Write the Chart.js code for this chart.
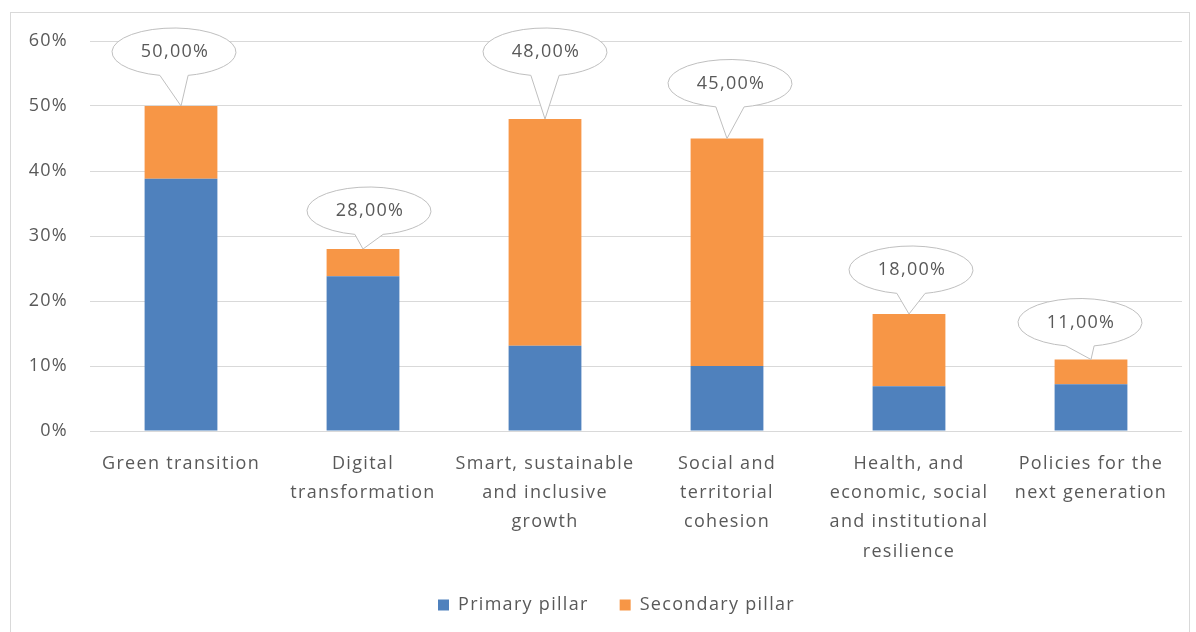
<!DOCTYPE html>
<html>
<head>
<meta charset="utf-8">
<script src="https://cdn.jsdelivr.net/npm/chart.js@4.4.1/dist/chart.umd.min.js"></script>
<style>
  html, body { margin: 0; padding: 0; background: #fff; overflow: hidden; }
  #frame {
    position: absolute; left: 10px; top: 12px;
    width: 1180px; height: 640px;
    border: 1px solid #d9d9d9; box-sizing: border-box;
  }
  #wrap { position: absolute; left: 0; top: 0; width: 1178px; height: 619px; }
</style>
</head>
<body>
<div id="frame"><div id="wrap"><canvas id="myChart"></canvas></div></div>
<script>
var categories = [
  "Green transition",
  ["Digital", "transformation"],
  ["Smart, sustainable", "and inclusive", "growth"],
  ["Social and", "territorial", "cohesion"],
  ["Health, and", "economic, social", "and institutional", "resilience"],
  ["Policies for the", "next generation"]
];
var primaryPillar = [38.8, 23.8, 13.1, 10.0, 6.9, 7.2];
var secondaryPillar = [11.2, 4.2, 34.9, 35.0, 11.1, 3.8];
var yTicks = [0, 10, 20, 30, 40, 50, 60];

var textColor = '#595959';
var fontFamily = "'Open Sans', 'Noto Sans', sans-serif";

// how far above the bar top each callout bubble sits (px) and sideways shift
var calloutLift = [54, 38, 67, 55, 44, 37];
var calloutShift = [-7, 6, 0, 3, 2, -11];

// the original text is a bit wider, open it up a little
var spacingPlugin = {
  id: 'spacing',
  beforeUpdate: function (chart) { chart.ctx.letterSpacing = '1.3px'; },
  beforeDraw: function (chart) { chart.ctx.letterSpacing = '1.3px'; },
  afterLayout: function (chart) {
    // legend sits a bit right of centre in the original
    if (chart.legend) chart.legend.left += 40;
  }
};

var calloutPlugin = {
  id: 'callouts',
  afterDatasetsDraw: function (chart) {
    var ctx = chart.ctx;
    var xs = chart.scales.x, ys = chart.scales.y;
    ctx.save();
    for (var i = 0; i < categories.length; i++) {
      var total = primaryPillar[i] + secondaryPillar[i];
      var tipX = xs.getPixelForValue(i);
      var tipY = ys.getPixelForValue(total);
      var cx = tipX + calloutShift[i], cy = tipY - calloutLift[i];
      var rx = 62, ry = 24;
      var d = 0.23;
      ctx.beginPath();
      ctx.ellipse(cx, cy, rx, ry, 0, Math.PI / 2 + d, Math.PI / 2 - d + Math.PI * 2, false);
      ctx.lineTo(tipX, tipY);
      ctx.closePath();
      ctx.fillStyle = '#ffffff';
      ctx.fill();
      ctx.strokeStyle = '#bfbfbf';
      ctx.lineWidth = 1;
      ctx.stroke();
      ctx.fillStyle = textColor;
      ctx.font = '18px ' + fontFamily;
      ctx.textAlign = 'center';
      ctx.textBaseline = 'middle';
      ctx.fillText(total.toFixed(2).replace('.', ',') + '%', cx + 1, cy);
    }
    ctx.restore();
  }
};

document.addEventListener('DOMContentLoaded', function () {
  var ctx = document.getElementById("myChart").getContext('2d');
  var myChart = new Chart(ctx, {
    type: 'bar',
    data: {
      labels: categories,
      datasets: [{
        label: 'Primary pillar',
        data: primaryPillar,
        backgroundColor: '#4f81bd'
      }, {
        label: 'Secondary pillar',
        data: secondaryPillar,
        backgroundColor: '#f79646'
      }]
    },
    plugins: [spacingPlugin, calloutPlugin],
    options: {
      responsive: true,
      maintainAspectRatio: false,
      animation: false,
      layout: { padding: { top: 28, right: 7, bottom: 8, left: 0 } },
      datasets: { bar: { barPercentage: 0.4, categoryPercentage: 1 } },
      scales: {
        x: {
          stacked: true,
          grid: { display: false },
          border: { display: false },
          afterFit: function (scale) { scale.height = 134; },
          ticks: {
            autoSkip: false, maxRotation: 0,
            color: textColor, padding: 10,
            font: { family: fontFamily, size: 18, lineHeight: 1.63 }
          }
        },
        y: {
          stacked: true,
          min: 0, max: 60,
          afterBuildTicks: function (scale) {
            scale.ticks = yTicks.map(function (v) { return { value: v }; });
          },
          afterFit: function (scale) {
            scale.width = 79;
            scale.paddingTop = 0;
            scale.paddingBottom = 0;
          },
          grid: { color: '#d9d9d9', drawTicks: false },
          border: { display: false },
          ticks: {
            color: textColor, padding: 22,
            font: { family: fontFamily, size: 18 },
            callback: function (v) { return v + '%'; }
          }
        }
      },
      plugins: {
        legend: {
          position: 'bottom',
          labels: {
            color: textColor, boxWidth: 11, boxHeight: 11, padding: 31,
            font: { family: fontFamily, size: 18 }
          }
        },
        tooltip: { enabled: false }
      }
    }
  });
});
</script>
</body>
</html>
